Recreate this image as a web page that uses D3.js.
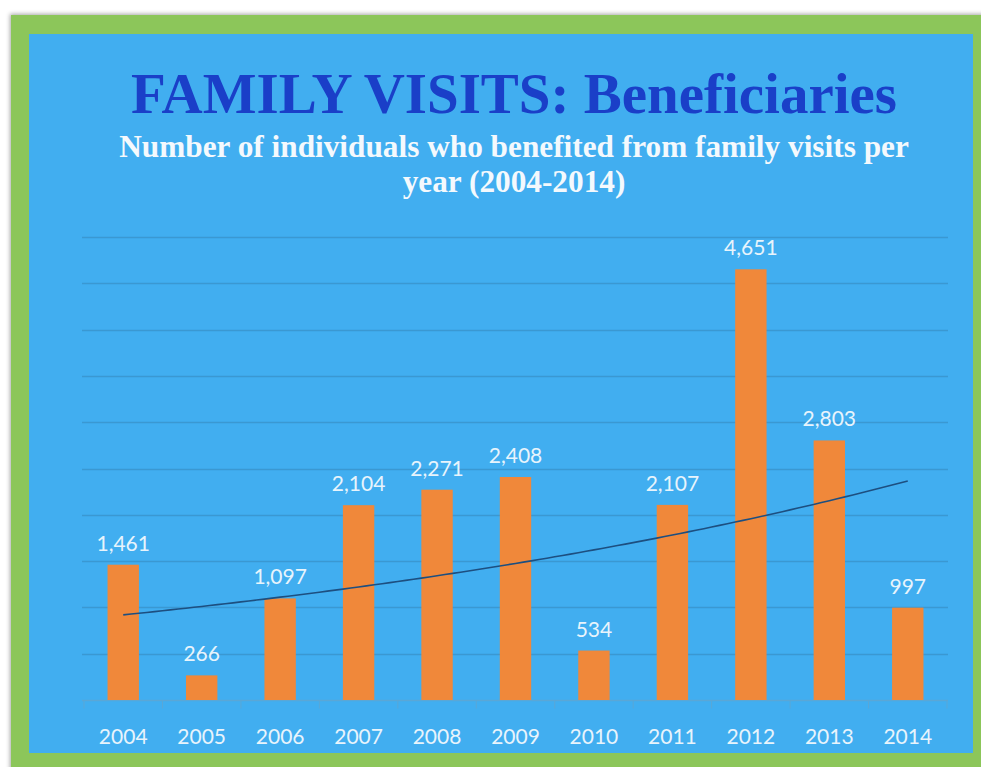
<!DOCTYPE html>
<html>
<head>
<meta charset="utf-8">
<script src="https://cdn.jsdelivr.net/npm/d3@7"></script>
<style>
  html, body { margin: 0; padding: 0; background: #ffffff; }
  svg { display: block; }
</style>
</head>
<body>
<div id="chart"></div>
<script>
// ---------------------------------------------------------------------------
// Data
// ---------------------------------------------------------------------------
const years  = ['2004', '2005', '2006', '2007', '2008', '2009', '2010', '2011', '2012', '2013', '2014'];
const values = [1461, 266, 1097, 2104, 2271, 2408, 534, 2107, 4651, 2803, 997];
const yTicks = [0, 500, 1000, 1500, 2000, 2500, 3000, 3500, 4000, 4500, 5000];

const titleText    = 'FAMILY VISITS: Beneficiaries';
const subtitleText = ['Number of individuals who benefited from family visits per', 'year (2004-2014)'];

// ---------------------------------------------------------------------------
// Layout
// ---------------------------------------------------------------------------
const W = 981, H = 767;
const plot = { left: 84, right: 947, top: 237, bottom: 700 };

const svg = d3.select('#chart').append('svg')
    .attr('width', W)
    .attr('height', H)
    .attr('viewBox', `0 0 ${W} ${H}`);

const defs = svg.append('defs');
const shadow = defs.append('filter').attr('id', 'shadow')
    .attr('x', '-5%').attr('y', '-5%').attr('width', '110%').attr('height', '110%');
shadow.append('feDropShadow')
    .attr('dx', -1).attr('dy', -1).attr('stdDeviation', 2)
    .attr('flood-color', '#000').attr('flood-opacity', 0.35);

// Frame: green border + blue panel
svg.append('rect')
    .attr('x', 11).attr('y', 15)
    .attr('width', W - 11 + 10).attr('height', H - 15 + 10)
    .attr('fill', '#8cc65a')
    .attr('filter', 'url(#shadow)');

svg.append('rect')
    .attr('x', 29).attr('y', 34)
    .attr('width', 973 - 29).attr('height', 753 - 34)
    .attr('fill', '#41aef0');

// Titles
const cx = 514;
const title = svg.append('text')
    .attr('x', cx).attr('y', 113)
    .attr('text-anchor', 'middle')
    .attr('font-family', '"Liberation Serif", "Times New Roman", serif')
    .attr('font-weight', 'bold')
    .attr('font-size', 52)
    .attr('fill', '#1a3fc8')
    .text(titleText);
// fit title width to the reference (~766px)
const tw = title.node().getComputedTextLength();
title.attr('font-size', 52 * 766 / tw);

const sub = svg.append('g')
    .attr('font-family', '"Liberation Serif", "Times New Roman", serif')
    .attr('font-weight', 'bold')
    .attr('fill', '#f4f9fd')
    .attr('text-anchor', 'middle');
const sub1 = sub.append('text').attr('x', cx).attr('y', 157).attr('font-size', 28).text(subtitleText[0]);
const sw = sub1.node().getComputedTextLength();
const subSize = 28 * 790 / sw;
sub1.attr('font-size', subSize);
sub.append('text').attr('x', cx).attr('y', 192).attr('font-size', subSize).text(subtitleText[1]);

// ---------------------------------------------------------------------------
// Scales
// ---------------------------------------------------------------------------
const x = d3.scaleBand()
    .domain(years)
    .range([plot.left, plot.right])
    .paddingInner(0.6)
    .paddingOuter(0.3);

const y = d3.scaleLinear()
    .domain([0, 5000])
    .range([plot.bottom, plot.top]);

const g = svg.append('g');

// Gridlines
g.append('g')
    .selectAll('line')
    .data(yTicks.slice(1))
    .join('line')
    .attr('x1', plot.left - 2).attr('x2', plot.right + 1)
    .attr('y1', d => Math.round(y(d)) + 0.5)
    .attr('y2', d => Math.round(y(d)) + 0.5)
    .attr('stroke', '#3a98d2')
    .attr('stroke-width', 1.5);

// X axis (ticks between categories)
const step = x.step();
const xAxis = g.append('g').attr('transform', `translate(0, ${plot.bottom + 0.5})`);
xAxis.append('line')
    .attr('x1', plot.left - 2).attr('x2', plot.right + 1)
    .attr('stroke', '#5aa7d6').attr('stroke-width', 1.5);
xAxis.selectAll('line.tick')
    .data(d3.range(years.length + 1))
    .join('line')
    .attr('class', 'tick')
    .attr('x1', i => plot.left + i * step)
    .attr('x2', i => plot.left + i * step)
    .attr('y1', 0).attr('y2', 8)
    .attr('stroke', '#5aa7d6').attr('stroke-width', 1);

xAxis.selectAll('text')
    .data(years)
    .join('text')
    .attr('x', d => x(d) + x.bandwidth() / 2)
    .attr('y', 43)
    .attr('text-anchor', 'middle')
    .attr('font-family', 'Lato, "Open Sans", sans-serif')
    .attr('font-size', 21)
    .attr('fill', '#e8f4fc')
    .text(d => d);

// Bars
g.append('g')
    .selectAll('rect')
    .data(values)
    .join('rect')
    .attr('x', (d, i) => x(years[i]))
    .attr('y', d => y(d))
    .attr('width', x.bandwidth())
    .attr('height', d => y(0) - y(d))
    .attr('fill', '#f0883a');

// Data labels
g.append('g')
    .selectAll('text')
    .data(values)
    .join('text')
    .attr('x', (d, i) => x(years[i]) + x.bandwidth() / 2)
    .attr('y', d => y(d) - 14)
    .attr('text-anchor', 'middle')
    .attr('font-family', 'Lato, "Open Sans", sans-serif')
    .attr('font-size', 21)
    .attr('fill', '#e8f4fc')
    .text(d => d3.format(',')(d));

// Exponential trendline (least squares on ln(value), like Excel)
const xs = years.map((d, i) => i + 1);
const ls = values.map(v => Math.log(v));
const mx = d3.mean(xs), ml = d3.mean(ls);
const b = d3.sum(xs, (xi, i) => (xi - mx) * (ls[i] - ml)) / d3.sum(xs, xi => (xi - mx) ** 2);
const a = ml - b * mx;
const trend = t => Math.exp(a + b * t);

const tx = d3.scaleLinear()
    .domain([1, years.length])
    .range([x(years[0]) + x.bandwidth() / 2, x(years[years.length - 1]) + x.bandwidth() / 2]);

g.append('path')
    .datum(d3.range(1, years.length + 0.001, 0.1))
    .attr('d', d3.line().x(t => tx(t)).y(t => y(trend(t))))
    .attr('fill', 'none')
    .attr('stroke', '#1d4f80')
    .attr('stroke-width', 1.6);
</script>
</body>
</html>
